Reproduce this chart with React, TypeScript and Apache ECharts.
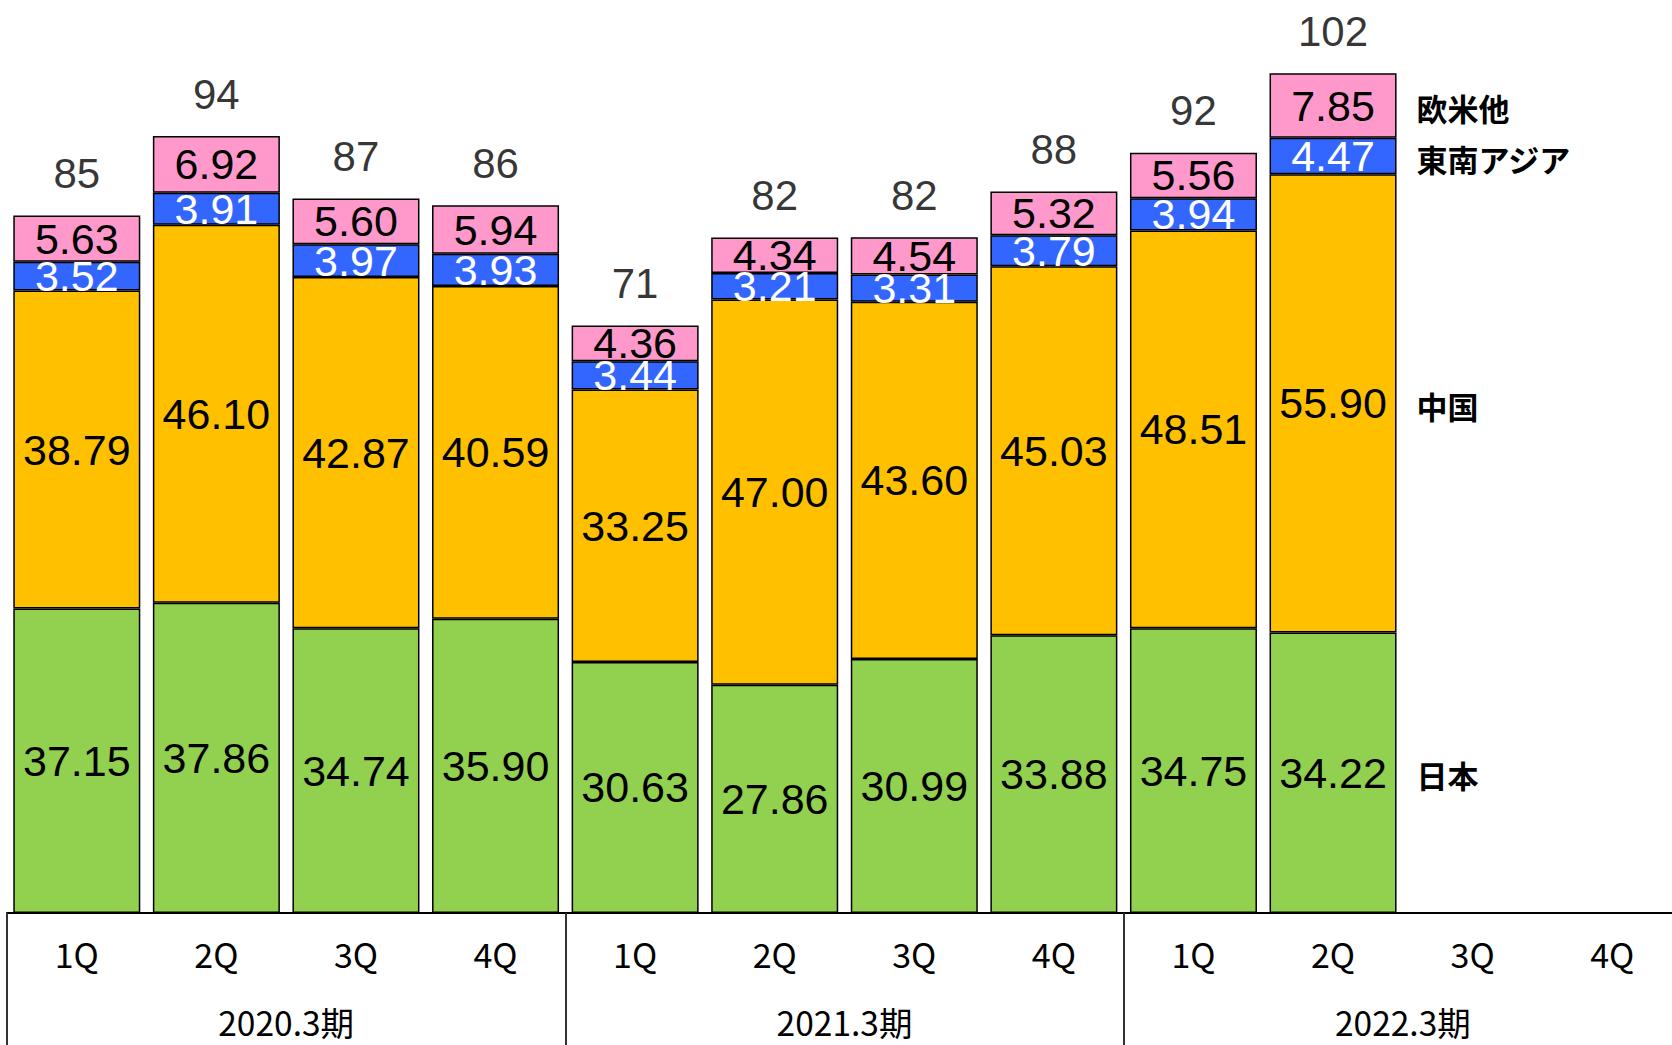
import React, { useEffect, useRef } from "react";
import * as echarts from "echarts";

const quarters = ["1Q", "2Q", "3Q", "4Q", "1Q", "2Q", "3Q", "4Q", "1Q", "2Q", "3Q", "4Q"];
const years = ["2020.3期", "2021.3期", "2022.3期"];
const japan = [37.15, 37.86, 34.74, 35.9, 30.63, 27.86, 30.99, 33.88, 34.75, 34.22];
const china = [38.79, 46.1, 42.87, 40.59, 33.25, 47.0, 43.6, 45.03, 48.51, 55.9];
const seAsia = [3.52, 3.91, 3.97, 3.93, 3.44, 3.21, 3.31, 3.79, 3.94, 4.47];
const westOther = [5.63, 6.92, 5.6, 5.94, 4.36, 4.34, 4.54, 5.32, 5.56, 7.85];
const totals = [85, 94, 87, 86, 71, 82, 82, 88, 92, 102];

const seriesDefs = [
  { name: "日本", data: japan, color: "#92D050", text: "#000000" },
  { name: "中国", data: china, color: "#FFC000", text: "#000000" },
  { name: "東南アジア", data: seAsia, color: "#3366FF", text: "#FFFFFF" },
  { name: "欧米他", data: westOther, color: "#FF99CC", text: "#000000" },
];

export default function App() {
  const ref = useRef<HTMLDivElement>(null);
  useEffect(() => {
    if (!ref.current) return;
    const chart = echarts.init(ref.current, null, { renderer: "svg" });
    const sums = japan.map((_, i) => seriesDefs.reduce((s, d) => s + d.data[i], 0));
    const option: any = {
      animation: false,
      grid: { left: 7, width: 1675, top: 11.4, bottom: 132, containLabel: false, outerBoundsMode: "none" },
      xAxis: [
        {
          type: "category",
          data: quarters,
          position: "bottom",
          axisLine: { show: true, lineStyle: { color: "#000", width: 2 } },
          axisTick: { show: false },
          axisLabel: {
            interval: 0,
            margin: 40,
            verticalAlign: "middle",
            fontSize: 34,
            fontFamily: "Noto Sans CJK JP",
            color: "#000",
          },
        },
        {
          type: "category",
          data: years,
          position: "bottom",
          axisLine: { show: false },
          axisTick: { show: true, interval: 0, length: 140, lineStyle: { color: "#333", width: 2 } },
          axisLabel: {
            interval: 0,
            margin: 108,
            verticalAlign: "middle",
            fontSize: 33.5,
            fontFamily: "Noto Sans CJK JP",
            color: "#000",
          },
        },
      ],
      yAxis: { type: "value", min: 0, max: 110, show: false, splitLine: { show: false } },
      series: [
        ...seriesDefs.map((d) => ({
          name: d.name,
          type: "bar",
          stack: "total",
          xAxisIndex: 0,
          barWidth: "91%",
          data: d.data,
          itemStyle: { color: d.color, borderColor: "#000", borderWidth: 1.5 },
          label: {
            show: true,
            position: "inside",
            formatter: (p: any) => Number(p.value).toFixed(2),
            fontSize: 43,
            fontFamily: "Liberation Sans Narrow, Liberation Sans, sans-serif",
            color: d.text,
          },
        })),
        {
          type: "scatter",
          xAxisIndex: 0,
          symbolSize: 0,
          data: sums.map((s, i) => [i, s]),
          label: {
            show: true,
            position: "inside",
            offset: [0, -42],
            formatter: (p: any) => String(totals[p.dataIndex]),
            fontSize: 42,
            fontFamily: "Liberation Sans, sans-serif",
            color: "#000",
          },
        },
      ],
    };
    chart.setOption(option);

    const last = japan.length - 1;
    const c0 = chart.convertToPixel({ gridIndex: 0 }, [last, 0]) as number[];
    const c1 = chart.convertToPixel({ gridIndex: 0 }, [last - 1, 0]) as number[];
    const band = c0[0] - c1[0];
    const textX = c0[0] + band * 0.455 + 20;
    let base = 0;
    const graphics: any[] = [];
    seriesDefs.forEach((d) => {
      const v = d.data[last];
      const mid = base + v / 2;
      base += v;
      const p = chart.convertToPixel({ gridIndex: 0 }, [last, mid]) as number[];
      graphics.push({
        type: "text",
        x: textX,
        y: p[1] + 2,
        style: {
          text: d.name,
          fontSize: 31,
          fontWeight: "bold",
          fontFamily: "Noto Sans CJK JP",
          fill: "#000",
          verticalAlign: "middle",
          align: "left",
        },
      });
    });
    chart.setOption({ graphic: graphics });

    return () => chart.dispose();
  }, []);
  return (
    <div
      ref={ref}
      style={{ position: "fixed", left: 0, top: 0, width: 1672, height: 1045, background: "#fff" }}
    />
  );
}
